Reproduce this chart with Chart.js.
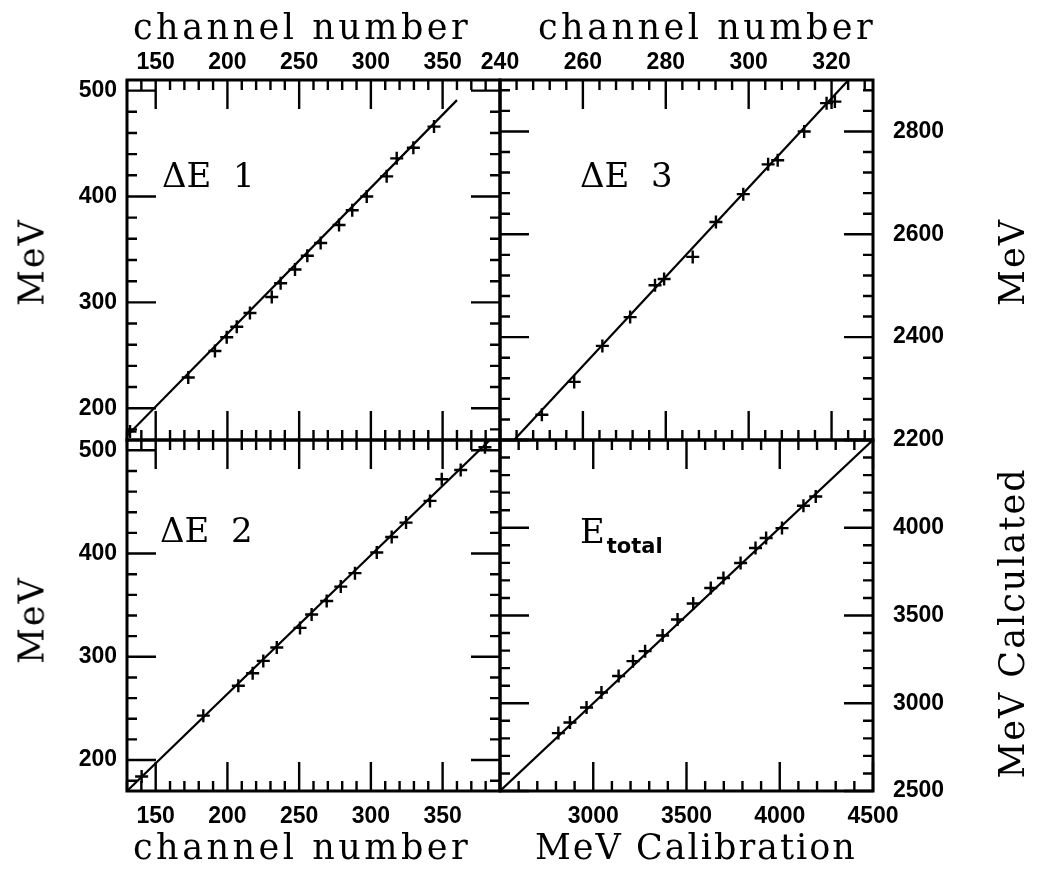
<!DOCTYPE html>
<html>
<head>
<meta charset="utf-8">
<script src="https://cdn.jsdelivr.net/npm/chart.js@4.4.1/dist/chart.umd.min.js"></script>
<style>
  body { margin: 0; background: #fff; }
  #wrap { position: relative; width: 1037px; height: 870px; overflow: hidden; background: #fff; }
  canvas { position: absolute; left: 0; top: 0; }
  .t { position: absolute; font-family: 'DejaVu Serif', serif; font-size: 35px; letter-spacing: 2px;
       line-height: 1; white-space: nowrap; color: #000; }
  .t.wide { letter-spacing: 3.5px; }
  .rot { transform: translate(-50%, -50%) rotate(-90deg); }
  .lab { position: absolute; font-family: 'DejaVu Serif', serif; font-size: 34px; line-height: 1;
         white-space: nowrap; color: #000; }
  .lab sub { font-family: 'DejaVu Sans', sans-serif; font-weight: bold; font-size: 21px;
             vertical-align: -10px; line-height: 0; margin-left: 2px; }
</style>
</head>
<body>
<div id="wrap">
  <canvas id="c1" width="1037" height="870"></canvas>
  <canvas id="c2" width="1037" height="870"></canvas>
  <canvas id="c3" width="1037" height="870"></canvas>
  <canvas id="c4" width="1037" height="870"></canvas>

  <div class="t wide" style="left:133px; top:10px;">channel number</div>
  <div class="t wide" style="left:538px; top:10px;">channel number</div>
  <div class="t wide" style="left:133px; top:830px;">channel number</div>
  <div class="t" style="left:535px; top:830px;">MeV Calibration</div>
  <div class="t rot" style="left:32px; top:262px;">MeV</div>
  <div class="t rot" style="left:32px; top:620px;">MeV</div>
  <div class="t rot" style="left:1012px; top:262px;">MeV</div>
  <div class="t rot" style="left:1012px; top:623px;">MeV Calculated</div>

  <div class="lab" style="left:162px; top:158px;">ΔE&nbsp;&nbsp;1</div>
  <div class="lab" style="left:580px; top:158px;">ΔE&nbsp;&nbsp;3</div>
  <div class="lab" style="left:160px; top:513px;">ΔE&nbsp;&nbsp;2</div>
  <div class="lab" style="left:580px; top:514px;">E<sub>total</sub></div>
</div>
<script>
// ΔE 1 (top left)
const de1Channel = [132.1, 172.7, 191.3, 199.5, 206.5, 215.7, 230.9, 237.1, 247.1, 255.7, 265.0, 277.8, 287.0, 297.1, 311.0, 318.0, 329.6, 344.0];
const de1MeV = [178, 229, 254, 267, 277, 290, 305, 318, 331, 344, 356, 373, 387, 400, 419, 436, 446, 466];
const de1FitChannel = [130, 360];
const de1FitMeV = [174, 491];

// ΔE 2 (bottom left)
const de2Channel = [140.2, 183.2, 207.6, 217.6, 225.0, 234.4, 250.6, 258.7, 269.2, 279.0, 288.9, 304.1, 314.5, 324.5, 341.2, 349.4, 362.6, 379.5];
const de2MeV = [184, 243, 272, 284, 296, 309, 328, 341, 354, 368, 381, 401, 416, 430, 451, 472, 481, 503];
const de2FitChannel = [130, 383];
const de2FitMeV = [170, 510];

// ΔE 3 (top right)
const de3Channel = [250.1, 257.9, 264.7, 271.4, 277.4, 279.6, 286.5, 292.1, 298.7, 304.7, 307.0, 313.4, 318.8, 320.8];
const de3MeV = [2249, 2313, 2383, 2439, 2501, 2513, 2556, 2624, 2678, 2736, 2744, 2800, 2855, 2858];
const de3FitChannel = [243.4, 324.1];
const de3FitMeV = [2200, 2900];

// E total (bottom right)
const etCalib = [2813, 2875, 2964, 3044, 3136, 3213, 3278, 3372, 3452, 3536, 3630, 3698, 3790, 3870, 3927, 4012, 4127, 4193];
const etCalc = [2830, 2890, 2976, 3061, 3155, 3240, 3297, 3386, 3477, 3568, 3657, 3714, 3799, 3885, 3942, 3998, 4125, 4178];
const etFitCalib = [2500, 4500];
const etFitCalc = [2500, 4500];

// tick labels
const chanTicksLeft = [150, 200, 250, 300, 350];
const mevTicksLeft = [200, 300, 400, 500];
const chanTicksRight = [240, 260, 280, 300, 320];
const mevTicksTopRight = [2200, 2400, 2600, 2800];
const calibTicks = [3000, 3500, 4000, 4500];
const calcTicks = [2500, 3000, 3500, 4000];

const xFont = { family: "'Liberation Sans', Arial, sans-serif", size: 23, weight: 'bold' };
const yFont = { family: "'Liberation Sans', Arial, sans-serif", size: 23, weight: 'bold' };

// inward ticks on all four sides + frame
const frameTicks = {
  id: 'frameTicks',
  afterDraw(chart, args, opts) {
    const { ctx, chartArea: a, scales: { x, y } } = chart;
    ctx.save();
    ctx.strokeStyle = '#000';
    ctx.lineWidth = 2.4;
    ctx.beginPath();
    const first = (min, step) => Math.ceil(min / step - 1e-6);
    const isMajor = (v, major) => Math.abs(v / major - Math.round(v / major)) < 1e-6;
    for (let i = first(x.min, opts.xMinor); i * opts.xMinor <= x.max + 1e-6; i++) {
      const v = i * opts.xMinor;
      const px = x.getPixelForValue(v);
      const len = isMajor(v, opts.xMajor) ? 29 : 10;
      ctx.moveTo(px, a.top); ctx.lineTo(px, a.top + len);
      ctx.moveTo(px, a.bottom); ctx.lineTo(px, a.bottom - len);
    }
    for (let i = first(y.min, opts.yMinor); i * opts.yMinor <= y.max + 1e-6; i++) {
      const v = i * opts.yMinor;
      const py = y.getPixelForValue(v);
      const len = isMajor(v, opts.yMajor) ? 29 : 10;
      ctx.moveTo(a.left, py); ctx.lineTo(a.left + len, py);
      ctx.moveTo(a.right, py); ctx.lineTo(a.right - len, py);
    }
    ctx.stroke();
    ctx.lineWidth = 3;
    ctx.strokeRect(a.left, a.top, a.right - a.left, a.bottom - a.top);
    ctx.restore();
  }
};

function axis(position, min, max, labels, font, pad, size) {
  return {
    type: 'linear', position, min, max,
    grid: { display: false, drawTicks: false },
    border: { display: false },
    afterBuildTicks: s => { s.ticks = labels.map(v => ({ value: v })); },
    afterFit: s => { if (s.isHorizontal()) s.height = size; else s.width = size; },
    ticks: { color: '#000', font, padding: pad, maxRotation: 0, autoSkip: false, callback: v => String(v) }
  };
}

function panel(id, xs, ys, fitX, fitY, xScale, yScale, padding, steps) {
  new Chart(document.getElementById(id), {
    type: 'scatter',
    data: {
      datasets: [
        {
          data: xs.map((v, i) => ({ x: v, y: ys[i] })),
          showLine: false,
          pointStyle: 'cross',
          pointRadius: 6.5,
          pointBorderWidth: 2.4,
          pointBorderColor: '#000'
        },
        {
          data: fitX.map((v, i) => ({ x: v, y: fitY[i] })),
          showLine: true,
          borderColor: '#000',
          borderWidth: 2.2,
          pointRadius: 0
        }
      ]
    },
    options: {
      responsive: false,
      animation: false,
      devicePixelRatio: 1,
      events: [],
      layout: { padding },
      plugins: { legend: { display: false }, tooltip: { enabled: false }, frameTicks: steps },
      scales: { x: xScale, y: yScale }
    },
    plugins: [frameTicks]
  });
}

// panel rectangles: left 127..500..873, top 80..440..791
panel('c1', de1Channel, de1MeV, de1FitChannel, de1FitMeV,
  axis('top', 130, 390, chanTicksLeft, xFont, 4, 40),
  axis('left', 170, 510, mevTicksLeft, yFont, 10, 60),
  { left: 67, top: 40, right: 537, bottom: 430 },
  { xMinor: 10, xMajor: 50, yMinor: 20, yMajor: 100 });

panel('c2', de3Channel, de3MeV, de3FitChannel, de3FitMeV,
  axis('top', 240, 330, chanTicksRight, xFont, 4, 40),
  axis('right', 2200, 2900, mevTicksTopRight, yFont, 20, 80),
  { left: 500, top: 40, right: 84, bottom: 430 },
  { xMinor: 4, xMajor: 20, yMinor: 40, yMajor: 200 });

panel('c3', de2Channel, de2MeV, de2FitChannel, de2FitMeV,
  axis('bottom', 130, 390, chanTicksLeft, xFont, 12, 40),
  axis('left', 170, 510, mevTicksLeft, yFont, 10, 60),
  { left: 67, top: 440, right: 537, bottom: 39 },
  { xMinor: 10, xMajor: 50, yMinor: 20, yMajor: 100 });

panel('c4', etCalib, etCalc, etFitCalib, etFitCalc,
  axis('bottom', 2500, 4500, calibTicks, xFont, 12, 40),
  axis('right', 2500, 4500, calcTicks, yFont, 20, 80),
  { left: 500, top: 440, right: 84, bottom: 39 },
  { xMinor: 100, xMajor: 500, yMinor: 100, yMajor: 500 });
</script>
</body>
</html>
